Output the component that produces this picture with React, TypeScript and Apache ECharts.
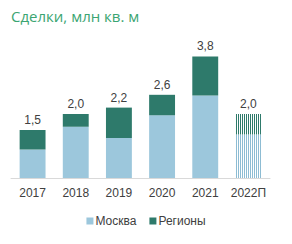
import React, { useEffect, useRef } from "react";
import * as echarts from "echarts";

const categories = ["2017", "2018", "2019", "2020", "2021", "2022П"];
const moscow = [0.89, 1.6, 1.25, 1.96, 2.58, 1.36];
const regions = [0.61, 0.4, 0.95, 0.64, 1.22, 0.64];
const totals = ["1,5", "2,0", "2,2", "2,6", "3,8", "2,0"];

const LIGHT = "#9cc7dc";
const DARK = "#2e7a6b";

function stripes(color: string) {
  const c = document.createElement("canvas");
  c.width = 2;
  c.height = 2;
  const ctx = c.getContext("2d")!;
  ctx.fillStyle = "#ffffff";
  ctx.fillRect(0, 0, 2, 2);
  ctx.fillStyle = color;
  ctx.fillRect(0, 0, 1, 2);
  return { image: c, repeat: "repeat" } as any;
}

export default function App() {
  const ref = useRef<HTMLDivElement>(null);
  useEffect(() => {
    const chart = echarts.init(ref.current!, undefined, { renderer: "svg" });
    const last = categories.length - 1;
    chart.setOption({
      animation: false,
      title: {
        text: "Сделки, млн кв. м",
        left: 6,
        top: 3,
        textStyle: {
          fontFamily: "Open Sans",
          fontSize: 15,
          fontWeight: "normal",
          color: "#3ba572",
        },
      },
      grid: { left: 11, right: 22, top: 50, bottom: 66 },
      xAxis: {
        type: "category",
        data: categories,
        axisLine: { lineStyle: { color: "#d9d9d9" } },
        axisTick: { show: false },
        axisLabel: {
          interval: 0,
          fontFamily: "Liberation Sans",
          fontSize: 12,
          color: "#404040",
          margin: 9,
        },
      },
      yAxis: {
        type: "value",
        min: 0,
        max: 4,
        show: false,
        splitLine: { show: false },
      },
      legend: {
        bottom: 12,
        left: "center",
        itemWidth: 7,
        itemHeight: 7,
        itemGap: 13,
        icon: "rect",
        textStyle: {
          fontFamily: "Liberation Sans",
          fontSize: 12,
          color: "#404040",
          padding: [0, 0, 0, -3],
        },
        data: ["Москва", "Регионы"],
      },
      series: [
        {
          name: "Москва",
          type: "bar",
          stack: "total",
          barWidth: "60%",
          itemStyle: { color: LIGHT },
          data: moscow.map((v, i) =>
            i === last ? { value: v, itemStyle: { color: stripes("#8dbcd3") } } : v
          ),
        },
        {
          name: "Регионы",
          type: "bar",
          stack: "total",
          barWidth: "60%",
          itemStyle: { color: DARK },
          label: {
            show: true,
            position: "top",
            distance: 4,
            fontFamily: "Liberation Sans",
            fontSize: 12,
            color: "#404040",
            formatter: (p: any) => totals[p.dataIndex],
          },
          data: regions.map((v, i) =>
            i === last ? { value: v, itemStyle: { color: stripes(DARK) } } : v
          ),
        },
      ],
    });
    return () => chart.dispose();
  }, []);
  return <div ref={ref} style={{ width: 292, height: 244, position: "absolute", left: 0, top: 0 }} />;
}
